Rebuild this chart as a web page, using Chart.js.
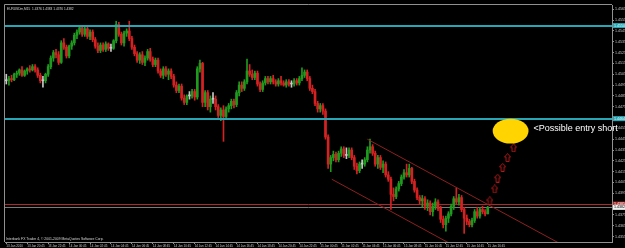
<!DOCTYPE html>
<html>
<head>
<meta charset="utf-8">
<script src="https://cdn.jsdelivr.net/npm/chart.js@4.4.0/dist/chart.umd.min.js"></script>
<style>
  html, body { margin: 0; padding: 0; background: #000; }
  canvas { display: block; }
</style>
</head>
<body>
<canvas id="myChart" width="625" height="248"></canvas>
<script>
/* global Chart */

// EURUSDm M15, one candle per entry
const opens = [
  1.4499,1.4499,1.4501,1.4500,1.4505,1.4506,1.4509,1.4504,1.4508,1.4510,
  1.4509,1.4512,1.4509,1.4504,1.4499,1.4499,1.4505,1.4512,1.4520,1.4525,
  1.4523,1.4516,1.4534,1.4530,1.4522,1.4531,1.4534,1.4541,1.4544,1.4548,
  1.4542,1.4547,1.4540,1.4544,1.4537,1.4531,1.4527,1.4532,1.4528,1.4533,
  1.4529,1.4529,1.4536,1.4551,1.4542,1.4534,1.4543,1.4545,1.4538,1.4530,
  1.4524,1.4518,1.4523,1.4516,1.4520,1.4526,1.4519,1.4514,1.4518,1.4508,
  1.4504,1.4510,1.4505,1.4508,1.4503,1.4495,1.4490,1.4494,1.4483,1.4479,
  1.4485,1.4485,1.4489,1.4484,1.4510,1.4515,1.4479,1.4488,1.4475,1.4482,
  1.4482,1.4475,1.4467,1.4472,1.4466,1.4473,1.4476,1.4480,1.4477,1.4488,
  1.4495,1.4492,1.4498,1.4508,1.4505,1.4502,1.4506,1.4496,1.4491,1.4497,
  1.4501,1.4498,1.4501,1.4498,1.4496,1.4499,1.4497,1.4495,1.4498,1.4496,
  1.4496,1.4499,1.4497,1.4501,1.4504,1.4507,1.4501,1.4492,1.4489,1.4478,
  1.4473,1.4476,1.4471,1.4447,1.4422,1.4428,1.4431,1.4426,1.4432,1.4436,
  1.4430,1.4430,1.4435,1.4428,1.4420,1.4416,1.4422,1.4422,1.4426,1.4435,
  1.4438,1.4432,1.4422,1.4428,1.4419,1.4422,1.4412,1.4408,1.4394,1.4392,
  1.4399,1.4404,1.4410,1.4414,1.4412,1.4418,1.4406,1.4398,1.4391,1.4388,
  1.4390,1.4383,1.4386,1.4378,1.4383,1.4387,1.4381,1.4371,1.4366,1.4372,
  1.4376,1.4383,1.4390,1.4387,1.4391,1.4380,1.4372,1.4369,1.4366,1.4370,
  1.4378,1.4374,1.4380,1.4378,1.4376
];
const highs = [
  1.4505,1.4503,1.4504,1.4506,1.4508,1.4510,1.4512,1.4509,1.4511,1.4513,
  1.4514,1.4514,1.4511,1.4506,1.4503,1.4506,1.4514,1.4522,1.4527,1.4528,
  1.4526,1.4536,1.4538,1.4532,1.4532,1.4536,1.4543,1.4546,1.4550,1.4550,
  1.4549,1.4549,1.4546,1.4546,1.4539,1.4534,1.4534,1.4534,1.4535,1.4534,
  1.4533,1.4537,1.4554,1.4553,1.4544,1.4545,1.4547,1.4554,1.4540,1.4532,
  1.4526,1.4525,1.4526,1.4522,1.4528,1.4529,1.4521,1.4520,1.4520,1.4510,
  1.4512,1.4512,1.4510,1.4510,1.4505,1.4498,1.4496,1.4496,1.4486,1.4486,
  1.4489,1.4491,1.4491,1.4512,1.4518,1.4516,1.4490,1.4490,1.4485,1.4488,
  1.4485,1.4477,1.4474,1.4476,1.4475,1.4478,1.4482,1.4482,1.4490,1.4498,
  1.4498,1.4500,1.4519,1.4514,1.4509,1.4508,1.4508,1.4498,1.4499,1.4503,
  1.4503,1.4503,1.4504,1.4500,1.4501,1.4503,1.4499,1.4500,1.4500,1.4499,
  1.4501,1.4501,1.4503,1.4511,1.4509,1.4509,1.4503,1.4495,1.4491,1.4480,
  1.4478,1.4478,1.4473,1.4449,1.4430,1.4434,1.4433,1.4434,1.4438,1.4438,
  1.4437,1.4437,1.4437,1.4430,1.4423,1.4424,1.4426,1.4428,1.4438,1.4445,
  1.4440,1.4434,1.4430,1.4430,1.4425,1.4424,1.4415,1.4410,1.4400,1.4401,
  1.4406,1.4412,1.4417,1.4422,1.4422,1.4419,1.4408,1.4400,1.4393,1.4393,
  1.4392,1.4389,1.4388,1.4386,1.4390,1.4389,1.4383,1.4374,1.4374,1.4378,
  1.4385,1.4392,1.4400,1.4394,1.4393,1.4382,1.4375,1.4371,1.4372,1.4380,
  1.4382,1.4382,1.4383,1.4380,1.4383
];
const lows = [
  1.4496,1.4495,1.4498,1.4499,1.4502,1.4504,1.4503,1.4503,1.4505,1.4507,
  1.4508,1.4507,1.4502,1.4497,1.4493,1.4497,1.4503,1.4510,1.4517,1.4520,
  1.4514,1.4515,1.4528,1.4520,1.4520,1.4528,1.4532,1.4538,1.4542,1.4540,
  1.4540,1.4538,1.4537,1.4535,1.4529,1.4525,1.4525,1.4526,1.4526,1.4527,
  1.4526,1.4528,1.4534,1.4540,1.4532,1.4531,1.4540,1.4536,1.4528,1.4522,
  1.4516,1.4515,1.4514,1.4513,1.4518,1.4517,1.4512,1.4512,1.4506,1.4502,
  1.4501,1.4503,1.4500,1.4501,1.4493,1.4488,1.4488,1.4481,1.4477,1.4477,
  1.4482,1.4483,1.4481,1.4482,1.4507,1.4475,1.4475,1.4472,1.4470,1.4478,
  1.4472,1.4465,1.4462,1.4443,1.4464,1.4470,1.4473,1.4474,1.4475,1.4485,
  1.4489,1.4490,1.4496,1.4503,1.4500,1.4500,1.4494,1.4489,1.4489,1.4495,
  1.4496,1.4496,1.4496,1.4494,1.4494,1.4495,1.4494,1.4493,1.4494,1.4493,
  1.4494,1.4495,1.4495,1.4499,1.4502,1.4499,1.4490,1.4487,1.4476,1.4470,
  1.4470,1.4468,1.4445,1.4418,1.4415,1.4425,1.4424,1.4424,1.4429,1.4428,
  1.4427,1.4428,1.4426,1.4417,1.4413,1.4414,1.4418,1.4420,1.4424,1.4432,
  1.4430,1.4420,1.4418,1.4417,1.4414,1.4410,1.4406,1.4380,1.4388,1.4390,
  1.4397,1.4402,1.4408,1.4410,1.4410,1.4404,1.4396,1.4389,1.4385,1.4382,
  1.4380,1.4379,1.4375,1.4374,1.4380,1.4379,1.4368,1.4363,1.4360,1.4368,
  1.4374,1.4380,1.4385,1.4384,1.4378,1.4358,1.4366,1.4364,1.4364,1.4368,
  1.4372,1.4372,1.4376,1.4374,1.4376
];
const closes = [
  1.4499,1.4501,1.4500,1.4505,1.4506,1.4509,1.4504,1.4508,1.4510,1.4509,
  1.4512,1.4509,1.4504,1.4499,1.4499,1.4505,1.4512,1.4520,1.4525,1.4523,
  1.4516,1.4534,1.4530,1.4522,1.4531,1.4534,1.4541,1.4544,1.4548,1.4542,
  1.4547,1.4540,1.4544,1.4537,1.4531,1.4527,1.4532,1.4528,1.4533,1.4529,
  1.4529,1.4536,1.4551,1.4542,1.4534,1.4543,1.4545,1.4538,1.4530,1.4524,
  1.4518,1.4523,1.4516,1.4520,1.4526,1.4519,1.4514,1.4518,1.4508,1.4504,
  1.4510,1.4505,1.4508,1.4503,1.4495,1.4490,1.4494,1.4483,1.4479,1.4485,
  1.4485,1.4489,1.4484,1.4510,1.4515,1.4479,1.4488,1.4475,1.4482,1.4482,
  1.4475,1.4467,1.4472,1.4466,1.4473,1.4476,1.4480,1.4477,1.4488,1.4495,
  1.4492,1.4498,1.4508,1.4505,1.4502,1.4506,1.4496,1.4491,1.4497,1.4501,
  1.4498,1.4501,1.4498,1.4496,1.4499,1.4497,1.4495,1.4498,1.4496,1.4496,
  1.4499,1.4497,1.4501,1.4504,1.4507,1.4501,1.4492,1.4489,1.4478,1.4473,
  1.4476,1.4471,1.4447,1.4422,1.4428,1.4431,1.4426,1.4432,1.4436,1.4430,
  1.4430,1.4435,1.4428,1.4420,1.4416,1.4422,1.4422,1.4426,1.4435,1.4438,
  1.4432,1.4422,1.4428,1.4419,1.4422,1.4412,1.4408,1.4394,1.4392,1.4399,
  1.4404,1.4410,1.4414,1.4412,1.4418,1.4406,1.4398,1.4391,1.4388,1.4390,
  1.4383,1.4386,1.4378,1.4383,1.4387,1.4381,1.4371,1.4366,1.4372,1.4376,
  1.4383,1.4390,1.4387,1.4391,1.4380,1.4372,1.4369,1.4366,1.4370,1.4378,
  1.4374,1.4380,1.4378,1.4376,1.4382
];

// one label every 8 bars (2 hours)
const timeTicks = [
  '13 Jan 2010','13 Jan 20:45','13 Jan 22:45','14 Jan 00:45','14 Jan 02:45','14 Jan 04:45',
  '14 Jan 06:45','14 Jan 08:45','14 Jan 10:45','14 Jan 12:45','14 Jan 14:45','14 Jan 16:45',
  '14 Jan 18:45','14 Jan 20:45','14 Jan 22:45','15 Jan 00:45','15 Jan 02:45','15 Jan 04:45',
  '15 Jan 06:45','15 Jan 08:45','15 Jan 10:45','15 Jan 12:45','15 Jan 14:45','15 Jan 16:45'
];
const priceTicks = [
  1.4355,1.4365,1.4375,1.4385,1.4395,1.4405,1.4415,1.4425,1.4435,1.4445,1.4455,
  1.4465,1.4475,1.4485,1.4495,1.4505,1.4515,1.4525,1.4535,1.4545,1.4555,1.4565
];

// objects drawn on the chart (x in bar numbers)
const resistance = [1.4550, 1.4464];
const redLevel = 1.4385;
const bidPrice = 1.4382;
const channelUpper = [{ x: 138, y: 1.4445 }, { x: 212, y: 1.4348 }];
const channelLower = [{ x: 124.4, y: 1.4408 }, { x: 170, y: 1.4348 }];
const arrowBars = [184.8, 186.7, 187.8, 189.7, 191.6, 193.9];
const arrowPrices = [1.4388, 1.4399, 1.4409, 1.4419, 1.4428, 1.4437];
const targetBars = [185.9, 199.6];
const targetPrices = [1.4441, 1.4464];
const noteText = '<Possible entry short';
const noteBar = 201.5;
const notePrice = 1.44545;

const totalSlots = 232;
const barsPerTick = 8;

const labels = [];
for (let i = 0; i < totalSlots; i++) {
  labels.push(i % barsPerTick === 0 && timeTicks[i / barsPerTick] ? timeTicks[i / barsPerTick] : '');
}

const upColor = '#1f9a1f';
const downColor = '#d42222';
const flatColor = '#c8c8c8';
const axisGrey = '#909090';
const cyan = '#27a7b6';

function candleColor(i) {
  if (closes[i] > opens[i]) return upColor;
  if (closes[i] < opens[i]) return downColor;
  return flatColor;
}

// hollow up arrow like the MT4 wingdings one
const arrowImg = document.createElement('canvas');
arrowImg.width = 7;
arrowImg.height = 9;
(function () {
  const c = arrowImg.getContext('2d');
  c.strokeStyle = '#b01a1a';
  c.lineWidth = 1;
  c.beginPath();
  c.moveTo(3.5, 0.5);
  c.lineTo(6.5, 4);
  c.lineTo(5, 4);
  c.lineTo(5, 8.5);
  c.lineTo(2, 8.5);
  c.lineTo(2, 4);
  c.lineTo(0.5, 4);
  c.closePath();
  c.stroke();
})();

const mt4Plugin = {
  id: 'mt4',
  beforeDraw(chart) {
    const c = chart.ctx;
    c.save();
    c.fillStyle = '#000';
    c.fillRect(0, 0, chart.width, chart.height);
    c.restore();
  },
  beforeDatasetsDraw(chart) {
    const c = chart.ctx;
    const a = chart.chartArea;
    const y = chart.scales.y;
    c.save();
    c.lineWidth = 1;
    c.strokeStyle = '#b02828';
    let py = Math.round(y.getPixelForValue(redLevel)) + 0.5;
    c.beginPath(); c.moveTo(a.left, py); c.lineTo(a.right, py); c.stroke();
    c.strokeStyle = '#7a7a7a';
    py = Math.round(y.getPixelForValue(bidPrice)) + 0.5;
    c.beginPath(); c.moveTo(a.left, py); c.lineTo(a.right, py); c.stroke();
    c.restore();
  },
  afterDatasetsDraw(chart) {
    const c = chart.ctx;
    const a = chart.chartArea;
    const x2 = chart.scales.x2;
    const y = chart.scales.y;
    c.save();
    // resistance lines
    c.strokeStyle = cyan;
    c.lineWidth = 2;
    resistance.forEach(v => {
      const py = Math.round(y.getPixelForValue(v));
      c.beginPath(); c.moveTo(a.left, py); c.lineTo(a.right, py); c.stroke();
    });
    // target ellipse
    const ex1 = x2.getPixelForValue(targetBars[0]);
    const ex2 = x2.getPixelForValue(targetBars[1]);
    const ey1 = y.getPixelForValue(targetPrices[1]);
    const ey2 = y.getPixelForValue(targetPrices[0]);
    c.fillStyle = '#ffd400';
    c.beginPath();
    c.ellipse((ex1 + ex2) / 2, (ey1 + ey2) / 2, (ex2 - ex1) / 2, (ey2 - ey1) / 2, 0, 0, Math.PI * 2);
    c.fill();
    // note
    c.fillStyle = '#ffffff';
    c.font = '9px "Liberation Sans", Arial, sans-serif';
    c.textBaseline = 'middle';
    c.textAlign = 'left';
    c.fillText(noteText, x2.getPixelForValue(noteBar), y.getPixelForValue(notePrice));
    c.restore();
  },
  afterDraw(chart) {
    const c = chart.ctx;
    const a = chart.chartArea;
    const y = chart.scales.y;
    c.save();
    // frame left/top
    c.strokeStyle = axisGrey;
    c.lineWidth = 1;
    c.beginPath();
    c.moveTo(a.left - 0.5, a.bottom);
    c.lineTo(a.left - 0.5, a.top - 0.5);
    c.lineTo(a.right, a.top - 0.5);
    c.stroke();
    // texts in the chart window
    c.fillStyle = '#d8d8d8';
    c.textAlign = 'left';
    c.textBaseline = 'middle';
    c.font = '3.2px "Liberation Sans", Arial, sans-serif';
    c.fillText('EURUSDm,M15  ' + [opens, highs, lows, closes].map(s => s[s.length - 1].toFixed(4)).join(' '), a.left + 2, a.top + 4);
    c.font = '3.4px "Liberation Sans", Arial, sans-serif';
    c.fillText('Interbank FX Trader 4, \u00a9 2001-2009 MetaQuotes Software Corp.', a.left + 1, a.bottom - 3);
    // price labels on the axis
    const box = (v, bg, fg) => {
      const py = y.getPixelForValue(v);
      c.fillStyle = bg;
      c.fillRect(a.right + 1, py - 2.5, chart.width - a.right - 1, 5);
      c.fillStyle = fg;
      c.font = '3.6px "Liberation Sans", Arial, sans-serif';
      c.fillText(v.toFixed(4), a.right + 2, py);
    };
    resistance.forEach(v => box(v, cyan, '#e8ffff'));
    box(redLevel, '#b02828', '#ffffff');
    box(bidPrice, '#f0f0f0', '#000000');
    c.restore();
  }
};

const ctx = document.getElementById('myChart');
const myChart = new Chart(ctx, {
  type: 'bar',
  data: {
    labels: labels,
    datasets: [
      {
        label: 'shadow',
        data: lows.map((l, i) => [l, highs[i]]),
        backgroundColor: c => candleColor(c.dataIndex),
        barThickness: 1,
        grouped: false,
        order: 3
      },
      {
        label: 'body',
        data: opens.map((o, i) => [o, closes[i]]),
        backgroundColor: c => candleColor(c.dataIndex),
        barThickness: 2,
        minBarLength: 1,
        grouped: false,
        order: 2
      },
      {
        type: 'line',
        label: 'channel top',
        data: channelUpper,
        xAxisID: 'x2',
        borderColor: '#8e2020',
        borderWidth: 1,
        pointRadius: 0,
        order: 1
      },
      {
        type: 'line',
        label: 'channel bottom',
        data: channelLower,
        xAxisID: 'x2',
        borderColor: '#8e2020',
        borderWidth: 1,
        pointRadius: 0,
        order: 1
      },
      {
        type: 'scatter',
        label: 'arrows',
        data: arrowBars.map((b, i) => ({ x: b, y: arrowPrices[i] })),
        xAxisID: 'x2',
        pointStyle: arrowImg,
        order: 0
      }
    ]
  },
  options: {
    responsive: false,
    devicePixelRatio: 1,
    animation: false,
    layout: { padding: { left: 1, top: 1, right: 0, bottom: 0 } },
    plugins: { legend: { display: false }, tooltip: { enabled: false } },
    scales: {
      x: {
        offset: true,
        afterFit: ax => { ax.height = 6; },
        grid: {
          offset: false,
          drawOnChartArea: false,
          tickLength: 2,
          color: c => (labels[c.index] ? axisGrey : 'rgba(0,0,0,0)')
        },
        border: { color: axisGrey },
        ticks: {
          autoSkip: false,
          maxRotation: 0,
          minRotation: 0,
          align: 'start',
          padding: 0,
          color: '#c8c8c8',
          font: { size: 3, family: 'Liberation Sans' }
        }
      },
      // same bar numbers as x, but numeric so lines and arrows can sit between bars
      x2: {
        type: 'linear',
        display: false,
        offset: false,
        grid: { offset: false },
        min: -0.5,
        max: totalSlots - 0.5
      },
      y: {
        position: 'right',
        min: 1.4350,
        max: 1.4569,
        afterBuildTicks: ax => { ax.ticks = priceTicks.map(v => ({ value: v })); },
        afterFit: ax => { ax.width = 13; },
        grid: { drawOnChartArea: false, tickLength: 2, color: axisGrey },
        border: { color: axisGrey },
        ticks: {
          padding: 1,
          color: '#c8c8c8',
          font: { size: 3.6, family: 'Liberation Sans' },
          callback: v => v.toFixed(4)
        }
      }
    }
  },
  plugins: [mt4Plugin]
});
</script>
</body>
</html>
